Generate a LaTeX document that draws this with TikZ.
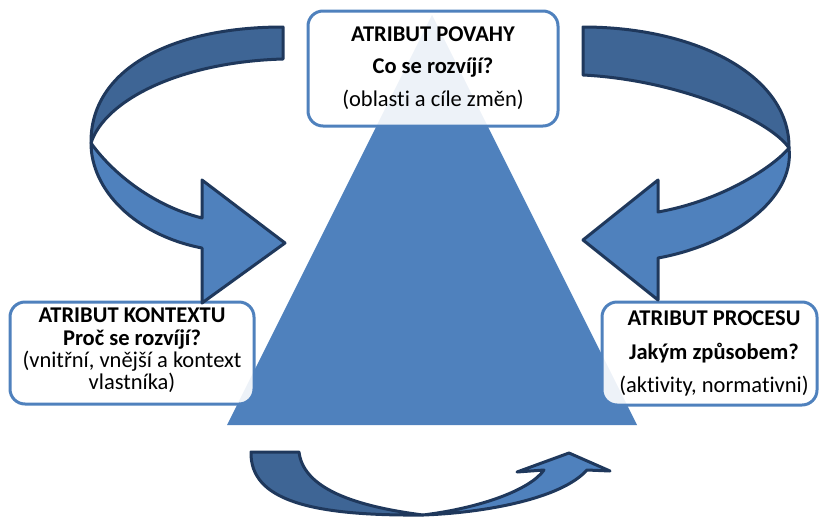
\documentclass[tikz,border=0pt]{standalone}
\usepackage{fontspec}
\setmainfont[Ligatures={NoCommon}]{Carlito}
\definecolor{tri}{RGB}{79,129,189}
\definecolor{bandlight}{RGB}{79,129,189}
\definecolor{banddark}{RGB}{62,101,149}
\definecolor{bandline}{RGB}{31,56,92}

\begin{document}
\begin{tikzpicture}[x=1pt,y=-1pt,
  attrbox/.style={draw=tri, line width=3pt, rounded corners=15pt, fill=white,
    fill opacity=0.9, inner sep=0pt},
  headline/.style={font=\fontsize{22.5}{26}\selectfont\bfseries, anchor=base, inner sep=0pt},
  noteline/.style={font=\fontsize{22.5}{26}\selectfont, anchor=base, inner sep=0pt},
  farside/.style={fill=banddark, draw=bandline, line width=3pt, line join=round},
  nearside/.style={fill=bandlight, draw=bandline, line width=3pt, line join=round}]

\useasboundingbox (0,0) rectangle (819,517);

% central pyramid
\coordinate (apex) at (432,15);
\coordinate (baseR) at (637,425);
\coordinate (baseL) at (227,425);
\fill[tri] (apex) -- (baseR) -- (baseL) -- cycle;

% attribute boxes
\node[attrbox, minimum width=250pt, minimum height=115pt] (povahy) at (433,68.5) {};
\node[attrbox, minimum width=244pt, minimum height=102pt] (kontext) at (132,353) {};
\node[attrbox, minimum width=215pt, minimum height=103pt] (proces) at (709.5,353.5) {};

% box texts
\node[headline] (povahyA) at (433,41) {ATRIBUT POVAHY};
\node[headline] (povahyB) at (433,73) {Co se rozvíjí?};
\node[noteline] (povahyC) at (433,106) {(oblasti a cíle změn)};

\node[headline] (kontextA) at (132,322) {ATRIBUT KONTEXTU};
\node[headline] (kontextB) at (132,345) {Proč se rozvíjí?};
\node[noteline] (kontextC) at (132,367) {(vnitřní, vnější a kontext};
\node[noteline] (kontextD) at (132,389) {vlastníka)};

\node[headline] (procesA) at (714,325) {ATRIBUT PROCESU};
\node[headline] (procesB) at (714,359) {Jakým způsobem?};
\node[noteline] (procesC) at (714,392) {(aktivity, normativni)};

% upper left curved arrow
\coordinate (twistL) at (91,143);
\draw[farside] (283,27) .. controls (170,27) and (90,70) .. (twistL)
  .. controls (105,100) and (180,62) .. (283,59) -- cycle;
\draw[nearside] (twistL) .. controls (91,190) and (135,235) .. (202,248)
  -- (202,303) -- (285,243) -- (202,180) -- (202,218)
  .. controls (150,205) and (110,170) .. (twistL) -- cycle;

% upper right curved arrow
\coordinate (twistR) at (789,148);
\draw[farside] (583,27) .. controls (695,27) and (790,75) .. (twistR)
  .. controls (770,120) and (680,80) .. (583,75) -- cycle;
\draw[nearside] (twistR) .. controls (795,200) and (730,245) .. (658,258)
  -- (658,300) -- (583,240) -- (658,180) -- (658,212)
  .. controls (725,200) and (775,165) .. (twistR) -- cycle;

% bottom curved arrow
\coordinate (twistB) at (423,515);
\draw[farside] (251,452) -- (299,452) .. controls (303,485) and (345,505) .. (twistB)
  .. controls (310,516) and (250,500) .. (251,452) -- cycle;
\draw[nearside] (twistB) .. controls (480,513) and (560,500) .. (587,470)
  -- (610,471) -- (569,453) -- (517,472) -- (544,470)
  .. controls (530,490) and (480,508) .. (twistB) -- cycle;
\end{tikzpicture}
\end{document}
